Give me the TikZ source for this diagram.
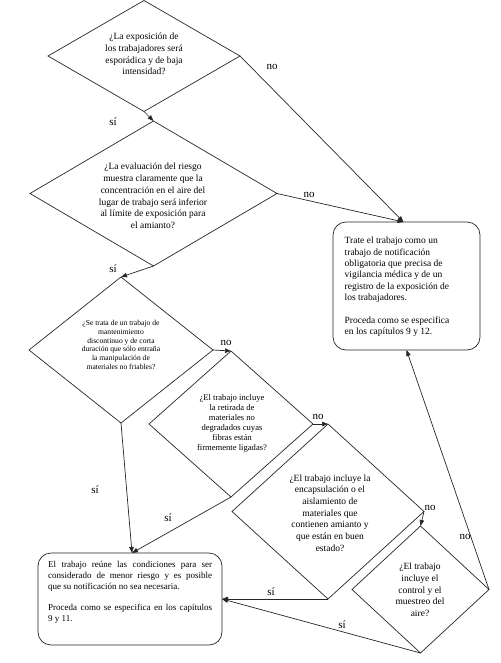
\documentclass[tikz,border=0pt]{standalone}
\usepackage{fontspec}
\setmainfont{Liberation Serif}
\usetikzlibrary{shapes.geometric,arrows.meta}
\tikzset{
  dia/.style={draw=black!85, shape=diamond, inner sep=0pt, outer sep=0pt, line width=0.7pt},
  dtext/.style={align=center, inner sep=0pt, font=\fontsize{9.5}{11.7}\selectfont},
  stext/.style={align=center, inner sep=0pt, font=\fontsize{7.6}{8.8}\selectfont},
  mtext/.style={align=center, inner sep=0pt, font=\fontsize{8.6}{10}\selectfont},
  rbox/.style={draw=black!85, rounded corners=13pt, inner sep=0pt, outer sep=0pt, line width=0.7pt},
  lbl/.style={inner sep=0pt, font=\fontsize{11}{12}\selectfont},
  conn/.style={draw=black!85, line width=0.7pt, -{Triangle[length=6pt,width=4.5pt]}},
}
\begin{document}
\begin{tikzpicture}[x=1pt,y=-1pt]
\useasboundingbox (0,0) rectangle (500,663);
% diamonds
\node[dia, minimum width=192pt, minimum height=111pt] (d1) at (144,56) {};
\node[dia, minimum width=247pt, minimum height=145pt] (d2) at (153.5,193.5) {};
\node[dia, minimum width=184pt, minimum height=146pt] (d3) at (121,350) {};
\node[dia, minimum width=164pt, minimum height=146pt] (d4) at (231,424) {};
\node[dia, minimum width=192pt, minimum height=175pt] (d5) at (328,511.5) {};
\node[dia, minimum width=137pt, minimum height=127pt] (d6) at (420.5,589.5) {};
% diamond texts
\node[dtext] (d1t) at (144,54) {¿La exposición de\\los trabajadores será\\esporádica y de baja\\intensidad?};
\node[dtext] (d2t) at (153,196) {¿La evaluación del riesgo\\muestra claramente que la\\concentración en el aire del\\lugar de trabajo será inferior\\al límite de exposición para\\el amianto?};
\node[stext] (d3t) at (121,345) {¿Se trata de un trabajo de\\mantenimiento\\discontinuo y de corta\\duración que sólo entraña\\la manipulación de\\materiales no friables?};
\node[mtext] (d4t) at (232,423) {¿El trabajo incluye\\la retirada de\\materiales no\\degradados cuyas\\fibras están\\firmemente ligadas?};
\node[dtext] (d5t) at (330,513) {¿El trabajo incluye la\\encapsulación o el\\aislamiento de\\materiales que\\contienen amianto y\\que están en buen\\estado?};
\node[dtext] (d6t) at (420,590) {¿El trabajo\\incluye el\\control y el\\muestreo del\\aire?};
% boxes
\node[rbox, minimum width=147pt, minimum height=128pt] (nb) at (406.5,286) {};
\node[align=left, inner sep=0pt, anchor=north west, font=\fontsize{9.5}{11.4}\selectfont] (nbt) at (344.5,237) {Trate el trabajo como un\\trabajo de notificación\\obligatoria que precisa de\\vigilancia médica y de un\\registro de la exposición de\\los trabajadores.\\[11.4pt]Proceda como se especifica\\en los capítulos 9 y 12.};
\node[rbox, minimum width=184pt, minimum height=92pt] (mb) at (130,599) {};
\node[inner sep=0pt, anchor=north west, text width=164pt, align=justify, font=\fontsize{9}{11}\selectfont] (mbt) at (48,561) {El trabajo reúne las condiciones para ser\linebreak considerado de menor riesgo y es posible\linebreak que su notificación no sea necesaria.\par\vspace{10pt}Proceda como se especifica en los capítulos\linebreak 9 y 11.};
% connectors
\draw[conn] (d1.south) -- (d2.north);
\draw[conn] (d1.east) -- ([xshift=-3pt]nb.north);
\draw[conn] (d2.east) -- ([xshift=-3pt]nb.north);
\draw[conn] (d2.south) -- (d3.north);
\draw[conn] (d3.east) -- (d4.north);
\draw[conn] (d3.south) -- ([xshift=2pt]mb.north);
\draw[conn] (d4.east) -- (d5.north);
\draw[conn] (d4.south) -- ([xshift=2pt]mb.north);
\draw[conn] (d5.east) -- (d6.north);
\draw[conn] (d5.south) -- (mb.east);
\draw[conn] (d6.south) -- (mb.east);
\draw[conn] (d6.east) -- (nb.south);
% labels
\node[lbl] (l1) at (272,67) {no};
\node[lbl] (l2) at (113,122) {sí};
\node[lbl] (l3) at (309,195) {no};
\node[lbl] (l4) at (113,269) {sí};
\node[lbl] (l5) at (226,343) {no};
\node[lbl] (l6) at (95,490) {sí};
\node[lbl] (l7) at (318,417) {no};
\node[lbl] (l8) at (168,518) {sí};
\node[lbl] (l9) at (430,508) {no};
\node[lbl] (l10) at (465,537) {no};
\node[lbl] (l11) at (271,592) {sí};
\node[lbl] (l12) at (342,625) {sí};
\end{tikzpicture}
\end{document}
